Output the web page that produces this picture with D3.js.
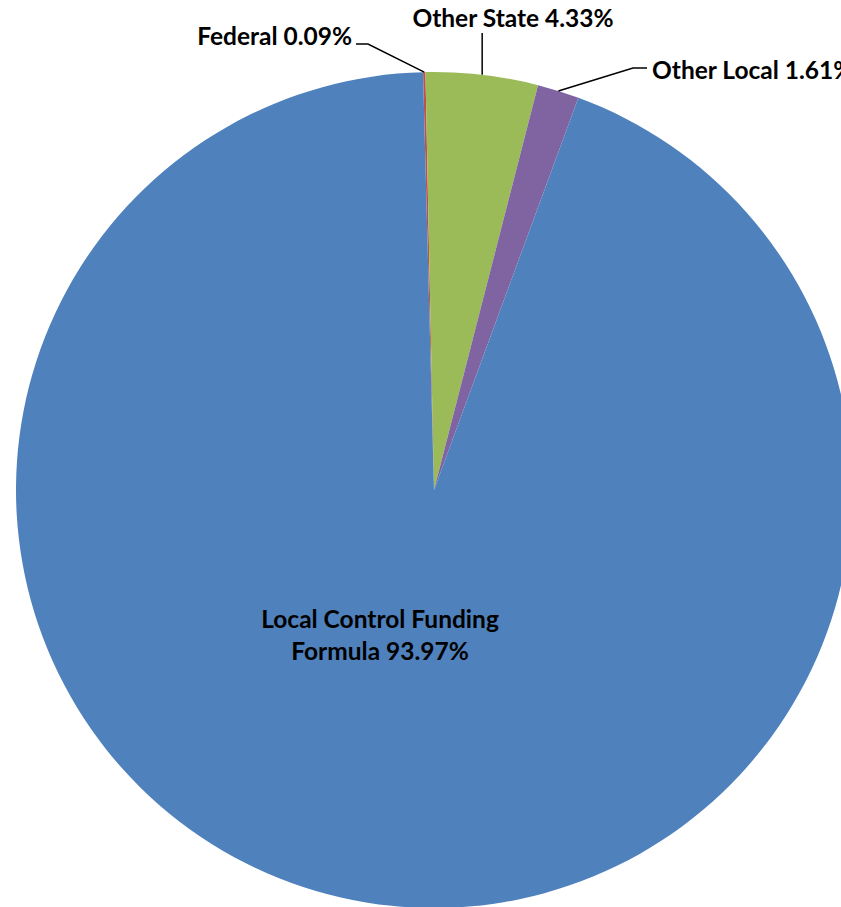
<!DOCTYPE html>
<html>
<head>
<meta charset="utf-8">
<script src="https://cdn.jsdelivr.net/npm/d3@7"></script>
<style>
  html, body { margin: 0; padding: 0; background: #fff; }
  svg text { font-family: Lato, "Open Sans", sans-serif; font-weight: bold; fill: #000; }
</style>
</head>
<body>
<div id="chart"></div>
<script>
// funding sources
var categories = ["Federal", "Other State", "Other Local", "Local Control Funding Formula"];
var shares = [0.09, 4.33, 1.61, 93.97];
var colors = ["#C0504D", "#9BBB59", "#8064A2", "#4F81BD"];

var width = 841,
    height = 907,
    cx = 434,
    cy = 490,
    radius = 418;

// pie is turned a touch counter-clockwise, like the original
var offset = -1.5 * Math.PI / 180;

var data = categories.map(function(c, i) {
    return { name: c, value: shares[i], color: colors[i] };
});

var svg = d3.select("#chart")
    .append("svg")
    .attr("width", width)
    .attr("height", height);

var g = svg.append("g")
    .attr("transform", "translate(" + cx + "," + cy + ")");

var pie = d3.pie()
    .sort(null)
    .value(function(d) { return d.value; })
    .startAngle(offset)
    .endAngle(offset + 2 * Math.PI);

var arc = d3.arc()
    .innerRadius(0)
    .outerRadius(radius);

var arcs = pie(data);

g.selectAll("path.slice")
    .data(arcs)
    .enter().append("path")
    .attr("class", "slice")
    .attr("d", arc)
    .attr("fill", function(d) { return d.data.color; });

function fmt(v) { return v.toFixed(2) + "%"; }

// outside labels (small slices) - text anchor point relative to centre, and leader start / elbow
var outside = [
    { i: 0, tx: 352 - cx, ty: 45 - cy, anchor: "end", start: [356 - cx, 44 - cy], elbow: [368 - cx, 44 - cy] },
    { i: 1, tx: 513 - cx, ty: 27 - cy, anchor: "middle", start: null, elbow: null, top: 33 - cy },
    { i: 2, tx: 652 - cx, ty: 79 - cy, anchor: "start", start: [647 - cx, 68 - cy], elbow: [633 - cx, 68 - cy] }
];

outside.forEach(function(o) {
    var a = arcs[o.i];
    var mid = (a.startAngle + a.endAngle) / 2;
    var px = radius * Math.sin(mid),
        py = -radius * Math.cos(mid);
    var pts = o.elbow ? [o.start, o.elbow, [px, py]] : [[px, o.top], [px, py]];

    g.append("path")
        .attr("d", d3.line()(pts))
        .attr("fill", "none")
        .attr("stroke", "#000")
        .attr("stroke-width", 1.5);

    g.append("text")
        .attr("x", o.tx)
        .attr("y", o.ty)
        .attr("text-anchor", o.anchor)
        .attr("font-size", "24.5px")
        .text(a.data.name + " " + fmt(a.data.value));
});

// big slice label, inside
var big = arcs[3];
var inner = g.append("text")
    .attr("text-anchor", "middle")
    .attr("font-size", "24.5px");
inner.append("tspan")
    .attr("x", 380 - cx)
    .attr("y", 628 - cy)
    .text("Local Control Funding");
inner.append("tspan")
    .attr("x", 380 - cx)
    .attr("y", 660 - cy)
    .text("Formula " + fmt(big.data.value));
</script>
</body>
</html>
